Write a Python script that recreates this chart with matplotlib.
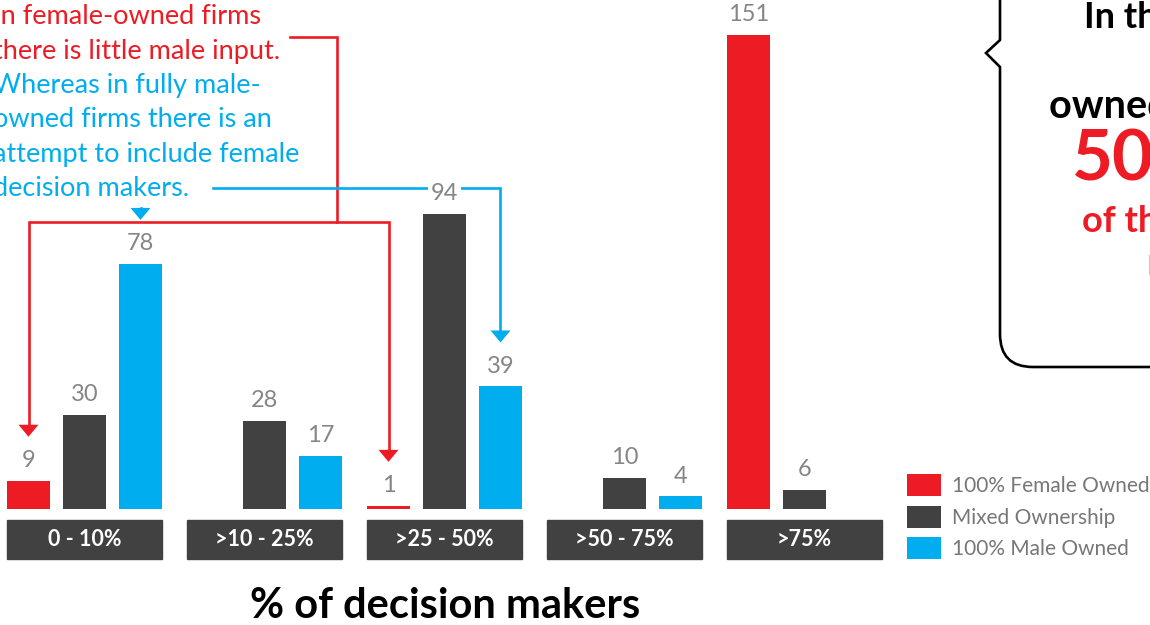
import numpy as np
import matplotlib
matplotlib.use("Agg")
import matplotlib.pyplot as plt
from matplotlib.patches import Rectangle, Polygon, PathPatch
from matplotlib.path import Path
from matplotlib.transforms import blended_transform_factory

plt.rcParams["font.family"] = ["Lato", "DejaVu Sans"]

# ownership counts per share of female decision makers
categories = ["0 - 10%", ">10 - 25%", ">25 - 50%", ">50 - 75%", ">75%"]
female_owned = [9, np.nan, 1, np.nan, 151]
mixed_owned = [30, 28, 94, 10, 6]
male_owned = [78, 17, 39, 4, np.nan]
series_names = ["100% Female Owned", "Mixed Ownership", "100% Male Owned"]

RED = "#ED1C24"
DARK = "#414141"
BLUE = "#00AEEF"
GREY = "#858585"

W, H = 1150, 625
fig = plt.figure(figsize=(W / 100, H / 100), dpi=100)


def fy(py):
    return 1 - py / H


# decoration layer in pixel coordinates (y down)
ov = fig.add_axes([0, 0, 1, 1], zorder=0)
ov.set_xlim(0, W)
ov.set_ylim(H, 0)
ov.axis("off")

# bar layer, baseline 509 px from the top
base_px = 509
ax = fig.add_axes([0, fy(base_px), 1, base_px / H], zorder=1)
ax.patch.set_alpha(0)
slot = 56 / 180
bar_w = 43 / 180
ax.set_xlim(-84.5 / 180, (W - 84.5) / 180)
ax.set_ylim(0, 162)
ax.axis("off")

x = np.arange(len(categories))
colors = [RED, DARK, BLUE]
for k, vals in enumerate([female_owned, mixed_owned, male_owned]):
    xs = x + (k - 1) * slot
    ax.bar(xs, np.nan_to_num(vals), width=bar_w, color=colors[k], zorder=2)
    for xi, v in zip(xs, vals):
        if np.isnan(v):
            continue
        ax.annotate(f"{v:g}", (xi, v), xytext=(0, 7), textcoords="offset points",
                    ha="center", va="bottom", fontsize=17, color=GREY, zorder=3,
                    bbox=dict(boxstyle="square,pad=0.1", fc="white", ec="none"))

# category boxes below the bars
trans = blended_transform_factory(ax.transData, fig.transFigure)
half = slot + bar_w / 2
for i, cat in enumerate(categories):
    ax.add_patch(Rectangle((i - half, fy(559)), 2 * half, 39 / H, transform=trans,
                           color=DARK, clip_on=False, zorder=2))
    ax.text(i, fy(539.5), cat, transform=trans, ha="center", va="center",
            color="white", fontsize=15.5, fontweight="bold", zorder=3)


def bar_x(group, k):
    return ax.transData.transform((group + (k - 1) * slot, 0))[0]


def label_top(value):
    return H - ax.transData.transform((0, value))[1] - 10 - 26


def arrow_down(xp, tip, color):
    ov.add_patch(Polygon([(xp - 10, tip - 12), (xp + 10, tip - 12), (xp, tip)],
                         closed=True, color=color, lw=0))


lw = 1.9
# red connector: female-owned groups
rx0, rx1 = bar_x(0, 0), bar_x(2, 0)
r_tip0 = label_top(female_owned[0]) - 8
r_tip1 = label_top(female_owned[2]) - 8
ov.plot([290, 337, 337], [37, 37, 222], color=RED, lw=lw, solid_joinstyle="miter")
ov.plot([rx0, rx0, rx1, rx1], [r_tip0 - 12, 222, 222, r_tip1 - 12], color=RED, lw=lw,
        solid_joinstyle="miter")
arrow_down(rx0, r_tip0, RED)
arrow_down(rx1, r_tip1, RED)

# blue connector: male-owned groups
bx0, bx1 = bar_x(0, 2), bar_x(2, 2)
b_tip0 = label_top(male_owned[0]) - 8
b_tip1 = label_top(male_owned[2]) - 8
ov.plot([213, bx1, bx1], [188, 188, b_tip1 - 12], color=BLUE, lw=lw, solid_joinstyle="miter")
ov.plot([bx0, bx0], [212, b_tip0 - 12], color=BLUE, lw=lw)
arrow_down(bx0, b_tip0, BLUE)
arrow_down(bx1, b_tip1, BLUE)

# annotation text
note_red = ["In female-owned firms", "there is little male input."]
note_blue = ["Whereas in fully male-", "owned firms there is an",
             "attempt to include female", "decision makers."]
for j, line in enumerate(note_red + note_blue):
    ov.text(-7, 17 + j * 34.3, line, ha="left", va="center", fontsize=19.5,
            color=RED if j < len(note_red) else BLUE)

# speech bubble on the right
r = 33
verts = [(1000, -10), (1000, 40), (986, 53), (1000, 67), (1000, 367 - r),
         (1000, 367), (1000 + r, 367), (1170, 367)]
codes = [Path.MOVETO, Path.LINETO, Path.LINETO, Path.LINETO, Path.LINETO,
         Path.CURVE3, Path.CURVE3, Path.LINETO]
ov.add_patch(PathPatch(Path(verts, codes), fc="white", ec="black", lw=1.9,
                       joinstyle="miter"))
ov.text(1084, 18, "In the", ha="left", va="center", fontsize=26,
        fontweight="bold", color="black")
ov.text(1049, 107, "owned firms", ha="left", va="center", fontsize=28.5,
        fontweight="bold", color="black")
ov.text(1072, 160, "50%", ha="left", va="center", fontsize=51,
        fontweight="bold", color=RED)
ov.text(1082, 222, "of the", ha="left", va="center", fontsize=26,
        fontweight="bold", color=RED)
ov.text(1147, 268, "held by women", ha="left", va="center", fontsize=20,
        fontweight="light", color=RED)

# legend
for k, name in enumerate(series_names):
    yk = 474 + k * 31.5
    ov.add_patch(Rectangle((907, yk), 34, 22, color=colors[k], lw=0))
    ov.text(952, yk + 12, name, ha="left", va="center", fontsize=15, color="#777777")

ov.text(445, 606, "% of decision makers", ha="center", va="center", fontsize=30,
        fontweight="bold", color="black")

fig.savefig("out.png", dpi=100)
